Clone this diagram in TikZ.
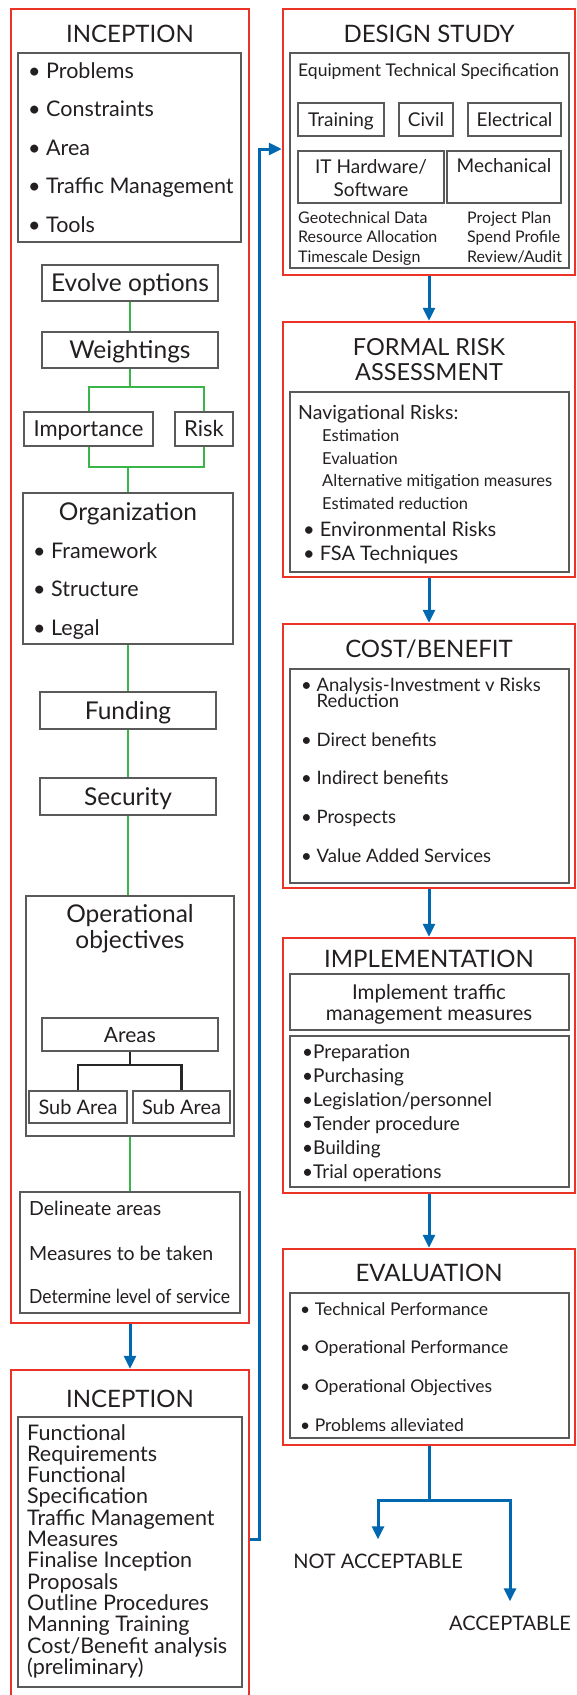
\documentclass[tikz,border=0pt]{standalone}
\usepackage{graphicx}
\usepackage{fontspec}
\setmainfont{Lato}
\usetikzlibrary{arrows.meta, positioning, fit}
\definecolor{framered}{RGB}{237,50,39}
\definecolor{flowblue}{RGB}{0,103,177}
\definecolor{linkgreen}{RGB}{57,181,74}
\definecolor{boxgray}{RGB}{90,90,90}
\definecolor{inkgray}{RGB}{35,31,32}
\newcommand{\fsz}[1]{\fontsize{#1}{#1}\selectfont}

\begin{document}
\begin{tikzpicture}[x=1pt, y=-1pt,
	every node/.append style={text=inkgray},
	redbox/.style={draw=framered, line width=2.5pt, inner sep=0pt},
	panel/.style={draw=boxgray, line width=1.2pt, inner sep=0pt},
	boxtext/.style={anchor=base, inner sep=0pt, font=\fsz{#1}, yshift=-0.36*#1},
	head/.style={anchor=base, inner sep=0pt, font=\fsz{24}},
	item/.style={anchor=base west, inner sep=0pt},
	link/.style={draw=linkgreen, line width=2pt},
	tree/.style={draw=black!85, line width=2.5pt},
	flowline/.style={draw=flowblue, line width=3pt},
	flow/.style={flowline, -{Triangle[length=13pt,width=12pt]}},
	result/.style={anchor=base, inner xsep=0pt, inner ysep=14pt, font=\fsz{20}}]
	\useasboundingbox (0,0) rectangle (576,1695);
	\clip (0,0) rectangle (576,1695);

	% inception, first part
	\node[redbox, fit={(11,9) (249,1323)}] (incA) {};
	\node[head] (incA-title) at (130,42) {INCEPTION};
	\node[panel, fit={(18,53) (241,242)}] (incA-list) {};
	\foreach \t [count=\i from 0] in {Problems, Constraints, Area, Traffic Management, Tools}
		\node[item, font=\fsz{21.5}] (incA-\i) at (28,78+38.5*\i) {\textbullet\ \t};
	\node[panel, fit={(42,265) (218,301)}] (evolve) {};
	\node[boxtext=24.5] (evolve-t) at (evolve) {Evolve options};
	\node[panel, fit={(42,332) (218,368)}] (weight) {};
	\node[boxtext=24.5] (weight-t) at (weight) {Weightings};
	\node[panel, fit={(24,412) (153,446)}] (imp) {};
	\node[boxtext=22] (imp-t) at (imp) {Importance};
	\node[panel, fit={(175,412) (233,446)}] (risk) {};
	\node[boxtext=22] (risk-t) at (risk) {Risk};
	\node[panel, fit={(23,493) (233,644)}] (org) {};
	\node[head, font=\fsz{24.5}] (org-title) at (128,520) {Organization};
	\foreach \t [count=\i from 0] in {Framework, Structure, Legal}
		\node[item, font=\fsz{21.5}] (org-\i) at (33,558+38.5*\i) {\textbullet\ \t};
	\node[panel, fit={(40,692) (216,729)}] (fund) {};
	\node[boxtext=24.5] (fund-t) at (fund) {Funding};
	\node[panel, fit={(40,778) (216,815)}] (sec) {};
	\node[boxtext=24.5] (sec-t) at (sec) {Security};
	\node[panel, fit={(26,896) (234,1136)}] (oper) {};
	\node[head, font=\fsz{24.5}] (oper-1) at (130,922) {Operational};
	\node[head, font=\fsz{24.5}] (oper-2) at (130,948) {objectives};
	\node[panel, fit={(42,1018) (218,1051)}] (areas) {};
	\node[boxtext=21] (areas-t) at (areas) {Areas};
	\node[panel, fit={(29,1091) (127,1123)}] (sub1) {};
	\node[boxtext=20] (sub1-t) at (sub1) {Sub Area};
	\node[panel, fit={(133,1091) (230,1123)}] (sub2) {};
	\node[boxtext=20] (sub2-t) at (sub2) {Sub Area};
	\node[panel, fit={(20,1192) (240,1313)}] (delin) {};
	\node[item, font=\fsz{19.5}] (delin-1) at (29,1215) {Delineate areas};
	\node[item, font=\fsz{19.5}] (delin-2) at (29,1260) {Measures to be taken};
	\node[item, font=\fsz{19.5}] (delin-3) at (29,1303) {\scalebox{0.9}[1]{Determine level of service}};

	\coordinate (wsplit) at (130,387);
	\coordinate (wjoin) at (128,467);
	\coordinate (asplit) at (130,1065);
	\draw[link] (evolve) -- (weight);
	\draw[link] (weight.south) -- (wsplit);
	\draw[link] (imp.north) |- (wsplit) -| (risk.north);
	\draw[link] (imp.south) |- (wjoin) -| (risk.south);
	\draw[link] (wjoin) -- (org.north);
	\draw[link] (org.south) -- (org.south |- fund.north);
	\draw[link] (fund.south) -- (fund.south |- sec.north);
	\draw[link] (sec.south) -- (sec.south |- oper.north);
	\draw[link] (oper.south) -- (oper.south |- delin.north);
	\draw[tree] (areas.south) -- (asplit);
	\draw[tree] (sub1.north) |- (asplit) -| (sub2.north);

	% inception, second part
	\node[redbox, fit={(11,1370) (249,1708)}] (incB) {};
	\node[head] (incB-title) at (130,1407) {INCEPTION};
	\node[panel, fit={(18,1417) (242,1687)}] (incB-list) {};
	\foreach \t [count=\i from 0] in {Functional, Requirements, Functional, Specification, Traffic Management, Measures, Finalise Inception, Proposals, Outline Procedures, Manning Training, Cost/Benefit analysis, (preliminary)}
		\node[item, font=\fsz{21.5}] (incB-\i) at (27,1440+21.3*\i) {\t};
	\draw[flow] (incA) -- (incB);

	% design study
	\node[redbox, fit={(283,9) (575,275)}] (design) {};
	\node[head] (design-title) at (429,42) {DESIGN STUDY};
	\node[panel, fit={(290,53) (569,268)}] (spec) {};
	\node[item, font=\fsz{17.5}] (spec-title) at (298,76) {Equipment Technical Specification};
	\node[panel, fit={(298,103) (384,136)}] (training) {};
	\node[boxtext=19] (training-t) at (training) {Training};
	\node[panel, fit={(399,103) (453,136)}] (civil) {};
	\node[boxtext=19] (civil-t) at (civil) {Civil};
	\node[panel, fit={(468,103) (561,136)}] (elec) {};
	\node[boxtext=19] (elec-t) at (elec) {Electrical};
	\node[panel, fit={(298,151) (444,203)}] (ithw) {};
	\node[anchor=base, inner sep=0pt, font=\fsz{19}] (ithw-1) at (371,173) {IT Hardware/};
	\node[anchor=base, inner sep=0pt, font=\fsz{19}] (ithw-2) at (371,196) {Software};
	\node[panel, fit={(447,151) (561,203)}] (mech) {};
	\node[anchor=base, inner sep=0pt, font=\fsz{19}] (mech-1) at (504,172) {Mechanical};
	\foreach \t [count=\i from 0] in {Geotechnical Data, Resource Allocation, Timescale Design}
		\node[item, font=\fsz{16}] (specl-\i) at (298,223+19.5*\i) {\t};
	\foreach \t [count=\i from 0] in {Project Plan, Spend Profile, Review/Audit}
		\node[item, font=\fsz{16}] (specr-\i) at (467,223+19.5*\i) {\t};

	\coordinate (turn) at (259,149);
	\draw[flow] (incB.east) -| (turn) -- (turn -| design.west);

	% formal risk assessment
	\node[redbox, fit={(283,322) (575,577)}] (fra) {};
	\node[head, font=\fsz{23.5}] (fra-1) at (429,355) {FORMAL RISK};
	\node[head, font=\fsz{23.5}] (fra-2) at (429,380) {ASSESSMENT};
	\node[panel, fit={(290,392) (569,572)}] (fra-list) {};
	\node[item, font=\fsz{19.5}] (nav) at (298,419) {Navigational Risks:};
	\foreach \t [count=\i from 0] in {Estimation, Evaluation, Alternative mitigation measures, Estimated reduction}
		\node[item, font=\fsz{16.5}] (nav-\i) at (322,441.5+22.5*\i) {\t};
	\node[item, font=\fsz{20}] (env) at (303,536) {\textbullet\ Environmental Risks};
	\node[item, font=\fsz{20}] (fsa) at (303,560) {\textbullet\ FSA Techniques};
	\draw[flow] (design) -- (fra);

	% cost/benefit
	\node[redbox, fit={(283,624) (575,888)}] (cost) {};
	\node[head] (cost-title) at (429,657) {COST/BENEFIT};
	\node[panel, fit={(290,669) (569,883)}] (cost-list) {};
	\node[item, font=\fsz{18.5}] (cost-a) at (301,691) {\textbullet\ Analysis-Investment v Risks};
	\node[item, font=\fsz{18.5}] (cost-b) at (301,707) {\phantom{\textbullet\ }Reduction};
	\foreach \t [count=\i from 0] in {Direct benefits, Indirect benefits, Prospects, Value Added Services}
		\node[item, font=\fsz{18.5}] (cost-\i) at (301,746+38.7*\i) {\textbullet\ \t};
	\draw[flow] (fra) -- (cost);

	% implementation
	\node[redbox, fit={(283,938) (575,1193)}] (impl) {};
	\node[head] (impl-title) at (429,967) {IMPLEMENTATION};
	\node[panel, fit={(290,974) (569,1030)}] (impl-box) {};
	\node[anchor=base, inner sep=0pt, font=\fsz{20.5}] (impl-1) at (429,999) {Implement traffic};
	\node[anchor=base, inner sep=0pt, font=\fsz{20.5}] (impl-2) at (429,1020) {management measures};
	\node[panel, fit={(290,1036) (569,1187)}] (impl-list) {};
	\foreach \t [count=\i from 0] in {Preparation, Purchasing, Legislation/personnel, Tender procedure, Building, Trial operations}
		\node[item, font=\fsz{19}] (impl-\i) at (302,1058+24*\i) {\textbullet\t};
	\draw[flow] (cost) -- (impl);

	% evaluation
	\node[redbox, fit={(283,1249) (575,1445)}] (eval) {};
	\node[head] (eval-title) at (429,1281) {EVALUATION};
	\node[panel, fit={(290,1293) (569,1438)}] (eval-list) {};
	\foreach \t [count=\i from 0] in {Technical Performance, Operational Performance, Operational Objectives, Problems alleviated}
		\node[item, font=\fsz{17.5}] (eval-\i) at (300,1315+38.7*\i) {\textbullet\ \t};
	\draw[flow] (impl) -- (eval);

	\node[result] (notacc) at (378,1568) {NOT ACCEPTABLE};
	\node[result] (acc) at (510,1630) {ACCEPTABLE};
	\coordinate (evsplit) at (429,1500);
	\draw[flowline] (eval.south) -- (evsplit);
	\draw[flow] (evsplit) -| (notacc.north);
	\draw[flow] (evsplit) -| (acc.north);
\end{tikzpicture}
\end{document}
